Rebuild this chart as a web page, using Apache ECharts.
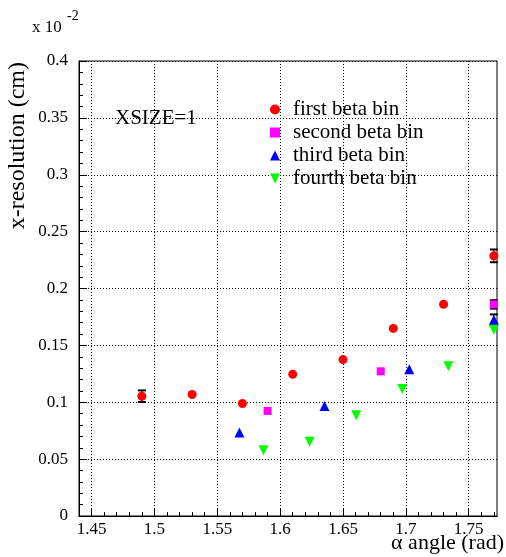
<!DOCTYPE html>
<html><head><meta charset="utf-8">
<script src="https://cdn.jsdelivr.net/npm/echarts@6/dist/echarts.min.js"></script>
<style>html,body{margin:0;padding:0;background:#fff}#c{width:506px;height:557px}</style>
</head><body><div id="c"></div>
<script>
// ---- tick labels ----
const xTickValues = [1.45, 1.5, 1.55, 1.6, 1.65, 1.7, 1.75];
const xTickLabels = ['1.45', '1.5', '1.55', '1.6', '1.65', '1.7', '1.75'];
const yTickLabels = ['0', '0.05', '0.1', '0.15', '0.2', '0.25', '0.3', '0.35', '0.4'];

// ---- series: first beta bin ----
const firstX   = [1.490, 1.530, 1.570, 1.610, 1.650, 1.690, 1.730, 1.770];
const firstY   = [0.1053, 0.1068, 0.0989, 0.1246, 0.1375, 0.1649, 0.1862, 0.2287];
const firstErr = [0.0051, 0, 0, 0, 0, 0, 0, 0.0056];
// ---- second beta bin ----
const secondX   = [1.590, 1.680, 1.770];
const secondY   = [0.0924, 0.1272, 0.1860];
const secondErr = [0, 0, 0.0037];
// ---- third beta bin ----
const thirdX   = [1.5676, 1.6353, 1.7027, 1.770];
const thirdY   = [0.0734, 0.0968, 0.1290, 0.1725];
const thirdErr = [0, 0, 0, 0.0047];
// ---- fourth beta bin ----
const fourthX = [1.5867, 1.6234, 1.6605, 1.6972, 1.7338, 1.770];
const fourthY = [0.0579, 0.0652, 0.0886, 0.1117, 0.1316, 0.1638];

const X_MIN = 1.44, X_MAX = 1.7725;
const FONT = '"Liberation Serif", serif';

const xMinor = [];
for (let i = 144; i <= 177; i++) xMinor.push(i / 100);

function zip(xs, ys, es) { return xs.map((x, i) => es ? [x, ys[i], es[i]] : [x, ys[i]]); }

function errRender(params, api) {
  const x = api.value(0), y = api.value(1), e = api.value(2);
  if (!e) return null;
  const t = api.coord([x, y + e]), b = api.coord([x, y - e]);
  const hw = 4;
  const st = { stroke: '#000', lineWidth: 2 };
  return { type: 'group', children: [
    { type: 'line', shape: { x1: t[0], y1: t[1], x2: b[0], y2: b[1] }, style: { stroke: '#000', lineWidth: 1 } },
    { type: 'line', shape: { x1: t[0] - hw, y1: t[1], x2: t[0] + hw, y2: t[1] }, style: st },
    { type: 'line', shape: { x1: b[0] - hw, y1: b[1], x2: b[0] + hw, y2: b[1] }, style: st }
  ]};
}

const chart = echarts.init(document.getElementById('c'), null, { renderer: 'canvas' });
const dotted = { color: '#000', width: 1, type: [1, 2] };
const tickFont = { color: '#000', fontFamily: FONT, fontSize: 17 };
const downTri = 'path://M0,0 L10,0 L5,10 Z';

chart.setOption({
  animation: false,
  backgroundColor: '#fff',
  textStyle: { fontFamily: FONT, fontSize: 17, color: '#000' },
  grid: { left: 79, right: 9, top: 61, bottom: 41, show: true, borderColor: '#000', borderWidth: 1, backgroundColor: 'transparent' },
  xAxis: [
    {
      type: 'value', min: X_MIN, max: X_MAX, position: 'bottom',
      axisLine: { show: true, lineStyle: { color: '#000', width: 1 } },
      axisTick: { show: true, inside: true, length: 8, customValues: xTickValues, lineStyle: { color: '#000' } },
      axisLabel: Object.assign({ show: true, customValues: xTickValues, margin: 5,
        formatter: v => { const i = xTickValues.findIndex(t => Math.abs(t - v) < 1e-6); return i >= 0 ? xTickLabels[i] : ''; } }, tickFont),
      splitLine: { show: true, lineStyle: dotted }
    },
    {
      type: 'value', min: X_MIN, max: X_MAX, position: 'bottom',
      axisLine: { show: false },
      axisTick: { show: true, inside: true, length: 4, customValues: xMinor, lineStyle: { color: '#000' } },
      axisLabel: { show: false },
      splitLine: { show: false }
    }
  ],
  yAxis: {
    type: 'value', min: 0, max: 0.4, interval: 0.05,
    axisLine: { show: true, lineStyle: { color: '#000', width: 1 } },
    axisTick: { show: true, inside: true, length: 8, lineStyle: { color: '#000' } },
    minorTick: { show: true, splitNumber: 5, length: 4, lineStyle: { color: '#000' } },
    axisLabel: Object.assign({ margin: 11, formatter: v => yTickLabels[Math.round(v / 0.05)] }, tickFont),
    splitLine: { show: true, lineStyle: dotted }
  },
  legend: {
    orient: 'vertical', left: 265, top: 94, itemWidth: 10, itemHeight: 10, itemGap: 2,
    symbolKeepAspect: true,
    textStyle: { fontFamily: FONT, fontSize: 21, color: '#000', lineHeight: 20, padding: [0, 0, 0, 8] },
    data: [
      { name: 'first beta bin', icon: 'circle', itemStyle: { color: '#ff0000' } },
      { name: 'second beta bin', icon: 'rect', itemStyle: { color: '#ff00ff' } },
      { name: 'third beta bin', icon: 'triangle', itemStyle: { color: '#0000ff' } },
      { name: 'fourth beta bin', icon: downTri, itemStyle: { color: '#00ff00' } }
    ]
  },
  graphic: [
    { type: 'text', x: 32, y: 28, style: { text: 'x 10', font: '17px "Liberation Serif"', fill: '#000', verticalAlign: 'middle' } },
    { type: 'text', x: 67, y: 16, style: { text: '-2', font: '14px "Liberation Serif"', fill: '#000', verticalAlign: 'middle' } },
    { type: 'text', x: 18, y: 62, rotation: Math.PI / 2, style: { text: 'x-resolution (cm)', font: '24px "Liberation Serif"', fill: '#000', align: 'right', verticalAlign: 'middle' } },
    { type: 'text', x: 504, y: 543, style: { text: 'α angle (rad)', font: '22px "Liberation Serif"', fill: '#000', align: 'right', verticalAlign: 'middle' } },
    { type: 'text', x: 115, y: 118, style: { text: 'XSIZE=1', font: '21px "Liberation Serif"', fill: '#000', align: 'left', verticalAlign: 'middle' } }
  ],
  series: [
    { type: 'custom', name: 'err1', renderItem: errRender, data: zip(firstX, firstY, firstErr), z: 1, silent: true },
    { type: 'custom', name: 'err2', renderItem: errRender, data: zip(secondX, secondY, secondErr), z: 1, silent: true },
    { type: 'custom', name: 'err3', renderItem: errRender, data: zip(thirdX, thirdY, thirdErr), z: 1, silent: true },
    { type: 'scatter', name: 'first beta bin', data: zip(firstX, firstY), symbol: 'circle', symbolSize: 9, itemStyle: { color: '#ff0000', opacity: 1 }, z: 3 },
    { type: 'scatter', name: 'second beta bin', data: zip(secondX, secondY), symbol: 'rect', symbolSize: 8, itemStyle: { color: '#ff00ff', opacity: 1 }, z: 3 },
    { type: 'scatter', name: 'third beta bin', data: zip(thirdX, thirdY), symbol: 'triangle', symbolSize: 10, itemStyle: { color: '#0000ff', opacity: 1 }, z: 3 },
    { type: 'scatter', name: 'fourth beta bin', data: zip(fourthX, fourthY), symbol: downTri, symbolSize: 10, itemStyle: { color: '#00ff00', opacity: 1 }, z: 3 }
  ]
});
</script>
</body></html>
